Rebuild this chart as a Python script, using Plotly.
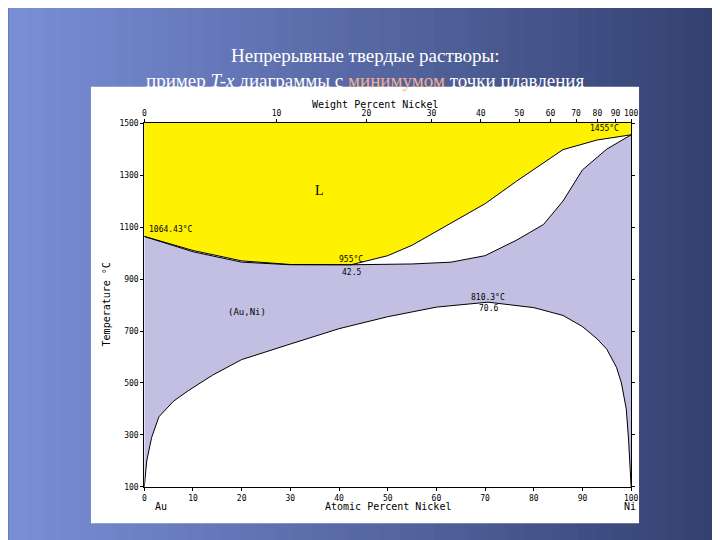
import plotly.graph_objects as go

# Au-Ni phase diagram (atomic % Ni, T in °C)
liq_x = [0, 10, 20, 30, 42.5, 50, 55, 63, 70, 76.5, 86, 93, 100]
liq_t = [1064, 1010, 970, 956, 955, 990, 1030, 1114, 1190, 1277, 1398, 1435, 1455]
sol_x = [0, 10, 20, 30, 42.5, 55, 63, 70, 76.5, 82, 86, 90, 95, 100]
sol_t = [1064, 1005, 965, 955, 955, 958, 965, 990, 1050, 1110, 1200, 1320, 1400, 1455]
gap_x = [0, 0.5, 1.5, 3, 6, 9, 14, 20, 30, 40, 50, 60, 70.6, 80, 86, 90, 93, 95, 97, 98, 99, 99.5, 100]
gap_t = [100, 200, 290, 370, 430, 470, 530, 590, 650, 709, 755, 792, 811, 790, 760, 717, 670, 630, 560, 500, 400, 274, 100]
wt_ticks = [0, 10, 20, 30, 40, 50, 60, 70, 80, 90, 100]
t_ticks = [100, 300, 500, 700, 900, 1100, 1300, 1500]


def wt_to_at(w):
    if w >= 100:
        return 100.0
    a = w / 58.69
    b = (100 - w) / 196.97
    return 100 * a / (a + b)


fig = go.Figure()

# slide background gradient (strips)
n = 40
for i in range(n):
    f = i / (n - 1)
    r = int(122 - 70 * f)
    g = int(142 - 76 * f)
    b = int(214 - 100 * f)
    fig.add_shape(type="rect", xref="paper", yref="paper", x0=i / n - 0.002, x1=(i + 1) / n + 0.002,
                  y0=-0.01, y1=1.01, line_width=0, fillcolor=f"rgb({r},{g},{b})", layer="below")
# white picture box
fig.add_shape(type="rect", xref="paper", yref="paper", x0=82 / 720, x1=637 / 720,
              y0=1 - 520 / 540, y1=1 - 76 / 540, line_width=0, fillcolor="white", layer="below")

line = dict(color="black", width=1)
# lavender solid-solution field as base
fig.add_trace(go.Scatter(x=[0, 100], y=[1500, 1500], mode="lines", line=dict(width=0),
                         fill="tozeroy", fillcolor="#c2bfe3", showlegend=False, hoverinfo="skip"))
fig.add_trace(go.Scatter(x=[0, 100], y=[1500, 1500], mode="lines", line=dict(width=0), showlegend=False))
fig.add_trace(go.Scatter(x=liq_x, y=liq_t, mode="lines", fill="tonexty", fillcolor="#fff200",
                         line=line, showlegend=False))
fig.add_trace(go.Scatter(x=sol_x, y=sol_t, mode="lines", fill="tonexty", fillcolor="white",
                         line=line, showlegend=False))
fig.add_trace(go.Scatter(x=gap_x, y=gap_t, mode="lines", fill="tozeroy", fillcolor="white",
                         line=line, showlegend=False))
fig.add_trace(go.Scatter(x=[0, 100], y=[1500, 1500], mode="lines", line=dict(width=0),
                         xaxis="x2", showlegend=False, hoverinfo="skip"))

mono = dict(family="DejaVu Sans Mono", size=8, color="black")
ax = dict(showgrid=False, zeroline=False, showline=True, linecolor="black", linewidth=1,
          ticks="outside", ticklen=3, tickcolor="black", tickfont=mono, mirror=False)
fig.update_layout(
    width=720, height=540, margin=dict(l=0, r=0, t=0, b=0),
    paper_bgcolor="#5a6ca8", plot_bgcolor="#c2bfe3",
    xaxis=dict(ax, range=[0, 100], tickvals=list(range(0, 101, 10)),
               domain=[136 / 720, 629 / 720], anchor="y"),
    xaxis2=dict(ax, range=[0, 100], overlaying="x", side="top", anchor="y",
                tickvals=[wt_to_at(w) for w in wt_ticks], ticktext=[str(w) for w in wt_ticks]),
    yaxis=dict(ax, range=[100, 1500], tickvals=t_ticks, mirror="ticks",
               domain=[1 - 483 / 540, 1 - 113 / 540], anchor="x"),
)

def txt(x, y, s, **kw):
    fig.add_annotation(x=x, y=y, text=s, showarrow=False, **kw)

def ptxt(px, py, s, size=9, angle=0, family="DejaVu Sans Mono", color="black"):
    txt(px / 720, 1 - py / 540, s, xref="paper", yref="paper", textangle=angle,
        font=dict(family=family, size=size, color=color))

ptxt(370, 86, "Weight Percent Nickel", size=10)
ptxt(383, 510, "Atomic Percent Nickel", size=10)
ptxt(145, 511, "Au", size=10)
ptxt(636, 511, "Ni", size=10)
ptxt(90, 297, "Temperature °C", size=10, angle=-90)
txt(36, 1240, "L", font=dict(family="Liberation Serif", size=14, color="black"))
txt(0.5, 1090, "1064.43°C", xanchor="left", font=mono)
txt(98, 1480, "1455°C", xanchor="right", font=mono)
txt(42.5, 975, "955°C", font=mono)
txt(42.5, 925, "42.5", font=mono)
txt(70.6, 830, "810.3°C", font=mono)
txt(70.6, 785, "70.6", font=mono)
txt(21, 775, "(Au,Ni)", font=dict(family="DejaVu Sans Mono", size=9, color="black"))

ptxt(360, 32, "Непрерывные твердые растворы:", size=19, family="Liberation Serif", color="white")
ptxt(360, 57, "пример <i>T-x</i> диаграммы с <span style='color:#f0b090'>минимумом</span> точки плавления",
     size=19, family="Liberation Serif", color="white")

fig.write_html("out.html")
